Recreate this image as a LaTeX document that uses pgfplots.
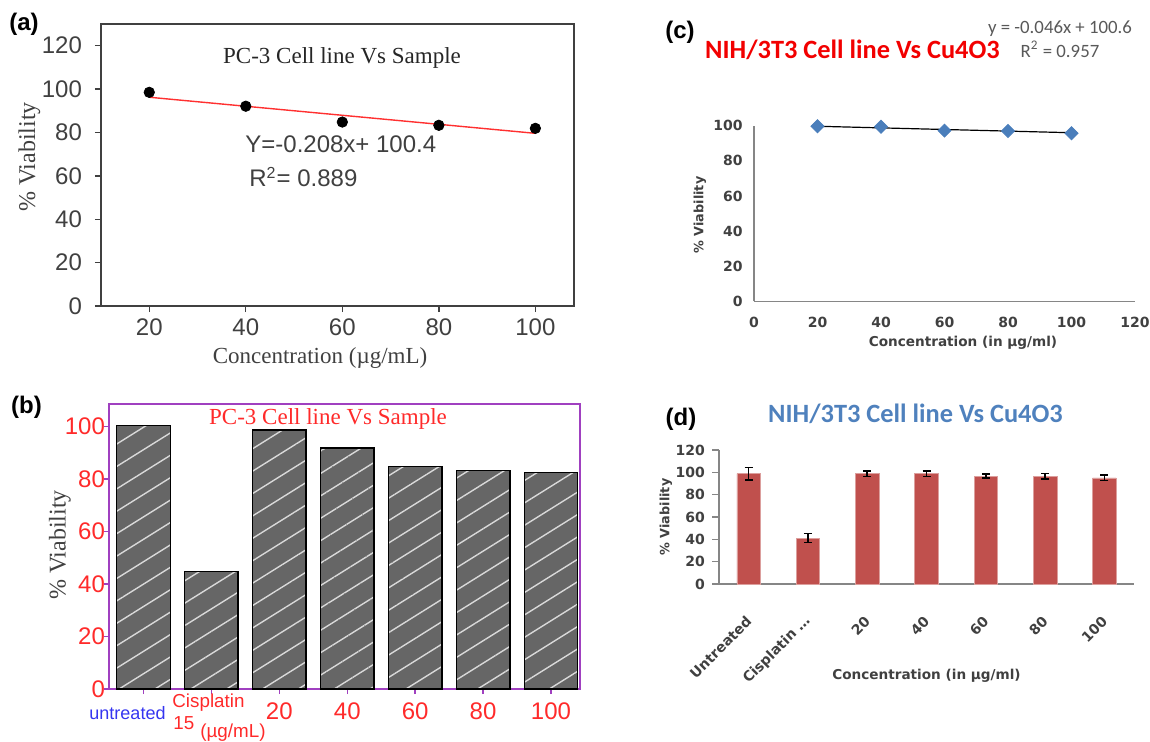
\documentclass[border=0pt]{standalone}
\usepackage{fontspec}
\setmainfont{Liberation Serif}
\newfontfamily\arial{Liberation Sans}
\newfontfamily\dejavu{DejaVu Sans}
\newfontfamily\calibri{Carlito}
\usepackage{pgfplots}
\pgfplotsset{compat=1.18}
\usetikzlibrary{patterns.meta}

\definecolor{axgray}{HTML}{404040}
\definecolor{purp}{HTML}{A040C0}
\definecolor{xlblue}{HTML}{4A7EBB}
\definecolor{xlred}{HTML}{C0504D}
\definecolor{xltitle}{HTML}{4F81BD}
\definecolor{xlaxis}{HTML}{868686}
\definecolor{eqgray}{HTML}{595959}
\definecolor{tickred}{HTML}{FF2A2A}
\definecolor{lblblue}{HTML}{3535F0}
\definecolor{fitred}{HTML}{FF3030}

\begin{document}
\begin{tikzpicture}
\path[use as bounding box] (0,0) rectangle (575pt,370.5pt);

% ---------------- (a) ----------------
\begin{axis}[
  at={(50.5pt,217.5pt)}, anchor=south west, scale only axis,
  width=236.5pt, height=141pt,
  xmin=10, xmax=108, ymin=0, ymax=130,
  xtick={20,40,60,80,100}, ytick={0,20,...,120},
  xtick pos=bottom, ytick pos=left,
  tick align=outside, major tick length=3pt,
  axis line style={axgray, line width=0.9pt},
  tick style={axgray, line width=0.7pt},
  ticklabel style={font=\arial\fontsize{12}{14}\selectfont, text=axgray},
  /pgf/number format/assume math mode=true,
  yticklabel style={xshift=-3pt},
  clip=false,
]
\addplot[fitred, line width=0.7pt, no marks] coordinates {(20,96.24) (100,79.6)};
\addplot[only marks, mark=*, mark size=2.6pt, black] coordinates {(20,98.5) (40,92.1) (60,84.8) (80,83.3) (100,81.9)};
\end{axis}

% ---------------- (b) ----------------
\begin{axis}[
  at={(54.5pt,26pt)}, anchor=south west, scale only axis,
  width=235.5pt, height=142.5pt,
  xmin=-0.508, xmax=6.427, ymin=0, ymax=108.6,
  ybar, bar width=26.75pt,
  xtick={0,1,2,3,4,5,6}, xticklabels={{},{},20,40,60,80,100},
  ytick={0,20,40,60,80,100},
  xtick pos=bottom, ytick pos=left,
  tick align=outside, major tick length=2.5pt,
  axis line style={purp, line width=1pt},
  tick style={purp, line width=0.7pt},
  ticklabel style={font=\arial\fontsize{12}{14}\selectfont, text=tickred},
  /pgf/number format/assume math mode=true,
  yticklabel style={xshift=4pt},
  xticklabel style={yshift=-1pt},
]
\addplot[fill=black!60, draw=black, line width=0.7pt,
  postaction={pattern={Lines[angle=32,distance=9.5pt,line width=0.7pt]}, pattern color=white!85!black}]
  coordinates {(0,100.3) (1,44.7) (2,98.7) (3,91.9) (4,84.8) (5,83.2) (6,82.4)};
\end{axis}

% ---------------- (c) ----------------
\begin{axis}[
  at={(377pt,219.85pt)}, anchor=south west, scale only axis,
  width=190.5pt, height=87.8pt,
  xmin=0, xmax=120, ymin=0, ymax=100,
  axis x line=bottom, axis y line=left,
  axis line style={xlaxis, line width=0.6pt, -},
  xtick={0,20,40,60,80,100,120}, ytick={0,20,40,60,80,100},
  tick style={draw=none},
  ticklabel style={font=\dejavu\bfseries\fontsize{7}{8}\selectfont, text=axgray},
  /pgf/number format/assume math mode=true,
  xticklabel style={yshift=-2pt},
  clip=false,
]
\addplot[only marks, mark=square*, mark size=2.3pt, mark options={rotate=45, fill=xlblue, draw=xlblue}]
  coordinates {(20,99.7) (40,99.4) (60,97.2) (80,97.0) (100,95.7)};
\addplot[black, line width=0.6pt, no marks] coordinates {(20,99.68) (100,96.0)};
\end{axis}

% ---------------- (d) ----------------
\begin{axis}[
  at={(359.5pt,78.5pt)}, anchor=south west, scale only axis,
  width=207.5pt, height=67pt,
  xmin=-0.5, xmax=6.5, ymin=0, ymax=120,
  ybar, bar width=11.75pt,
  axis x line=bottom, axis y line=left,
  axis line style={xlaxis, line width=0.6pt, -},
  xtick={0,1,2,3,4,5,6},
  xticklabels={Untreated, {Cisplatin \ldots}, 20, 40, 60, 80, 100},
  ytick={0,20,40,60,80,100,120},
  xtick style={draw=none},
  ytick style={xlaxis, line width=0.6pt},
  tick align=outside, major tick length=3.5pt,
  ticklabel style={font=\dejavu\bfseries\fontsize{7}{8}\selectfont, text=axgray},
  /pgf/number format/assume math mode=true,
  xticklabel style={yshift=-11.4pt, xshift=2.6pt, rotate=45, anchor=east},
]
\addplot[fill=xlred, draw=xlred!55!white, line width=0.3pt,
  error bars/.cd, y dir=both, y explicit,
  error bar style={black, line width=0.8pt},
  error mark options={rotate=90, mark size=2pt, black, line width=0.8pt}]
  coordinates {(0,98.8) +- (0,5.6) (1,41.2) +- (0,4.2) (2,98.7) +- (0,2.5) (3,98.8) +- (0,2.5)
               (4,96.7) +- (0,1.8) (5,96.5) +- (0,2.5) (6,95.1) +- (0,2.5)};
\end{axis}

% ---------------- text (pixel coordinates) ----------------
\begin{scope}[x=0.5pt, y=-0.5pt, shift={(0pt,370.5pt)}, every node/.style={inner sep=0pt}]
  % (a)
  \node[font=\arial\bfseries\fontsize{12}{14}\selectfont] at (24,24) {(a)};
  \node[font=\fontsize{11.5}{13}\selectfont, text=black!85] at (342,58) {PC-3 Cell line Vs Sample};
  \node[anchor=west, font=\arial\fontsize{12}{14}\selectfont, text=axgray] at (245,144) {Y=-0.208x+ 100.4};
  \node[anchor=west, font=\arial\fontsize{12}{14}\selectfont, text=axgray] at (249,177) {R\textsuperscript{2}= 0.889};
  \node[rotate=90, font=\fontsize{12}{14}\selectfont, text=axgray] at (29.5,157) {\% Viability};
  \node[font=\fontsize{11.5}{13}\selectfont, text=axgray] at (320,358) {Concentration (µg/mL)};
  % (b)
  \node[font=\arial\bfseries\fontsize{12}{14}\selectfont] at (26.5,407.5) {(b)};
  \node[font=\fontsize{11.5}{13}\selectfont, text=tickred] at (328,419) {PC-3 Cell line Vs Sample};
  \node[rotate=90, font=\fontsize{12}{14}\selectfont, text=axgray] at (60,545) {\% Viability};
  \node[font=\arial\fontsize{9}{10}\selectfont, text=lblblue] at (127.5,713) {untreated};
  \node[anchor=west, font=\arial\fontsize{9.4}{10}\selectfont, text=tickred] at (172,703) {Cisplatin};
  \node[anchor=west, font=\arial\fontsize{9.4}{10}\selectfont, text=tickred] at (173,723) {15};
  \node[anchor=west, font=\arial\fontsize{9.4}{10}\selectfont, text=tickred] at (200,733) {(µg/mL)};
  % (c)
  \node[font=\arial\bfseries\fontsize{12}{14}\selectfont] at (680,32) {(c)};
  \node[font=\calibri\bfseries\fontsize{13.2}{15}\selectfont, text=red!95!black] at (852.5,50) {NIH/3T3 Cell line Vs Cu4O3};
  \node[font=\calibri\fontsize{9.4}{11}\selectfont, text=eqgray] at (1060,29) {y = -0.046x + 100.6};
  \node[font=\calibri\fontsize{9.4}{11}\selectfont, text=eqgray] at (1060,49) {R\textsuperscript{2} = 0.957};
  \node[rotate=90, font=\dejavu\bfseries\fontsize{6.4}{8}\selectfont, text=axgray] at (700,215) {\% Viability};
  \node[font=\dejavu\bfseries\fontsize{6.8}{8}\selectfont, text=axgray] at (963,343) {Concentration (in µg/ml)};
  % (d)
  \node[font=\arial\bfseries\fontsize{12}{14}\selectfont] at (681,419) {(d)};
  \node[font=\calibri\bfseries\fontsize{13.2}{15}\selectfont, text=xltitle] at (915.5,414) {NIH/3T3 Cell line Vs Cu4O3};
  \node[rotate=90, font=\dejavu\bfseries\fontsize{6.4}{8}\selectfont, text=axgray] at (666,517) {\% Viability};
  \node[font=\dejavu\bfseries\fontsize{6.8}{8}\selectfont, text=axgray] at (926.5,676) {Concentration (in µg/ml)};
\end{scope}
\end{tikzpicture}
\end{document}
